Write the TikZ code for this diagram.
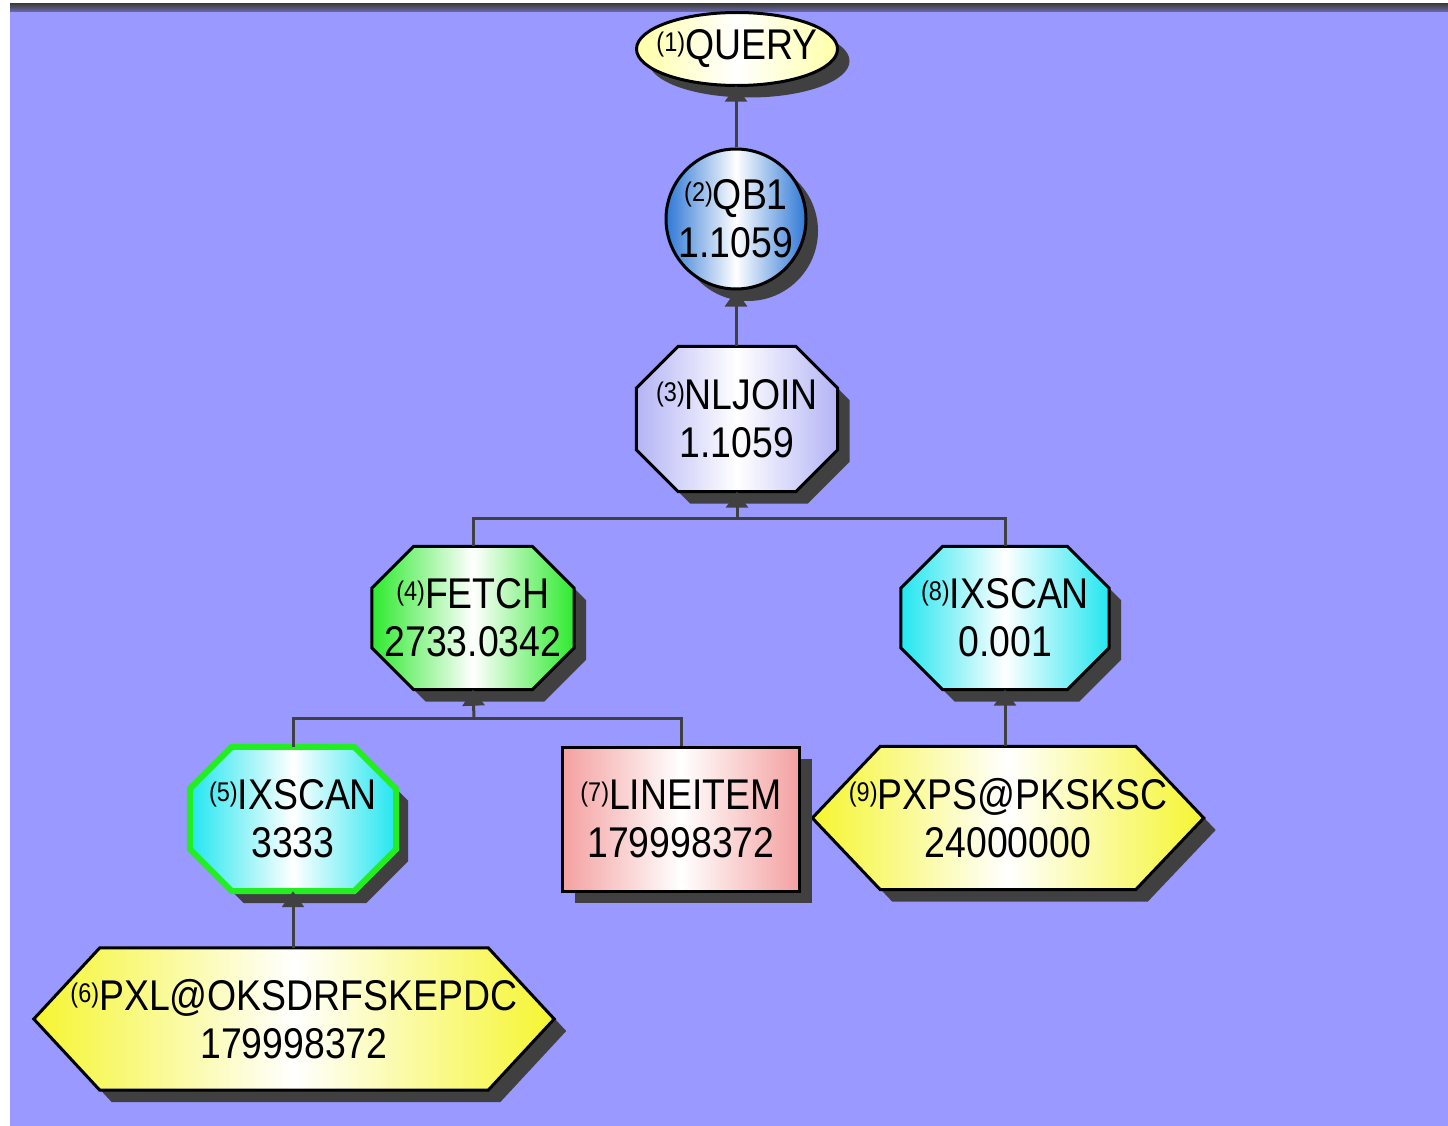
\documentclass[tikz,border=0pt]{standalone}
\usepackage{fontspec}
\setmainfont[FakeStretch=0.87]{Liberation Sans}
\usetikzlibrary{shapes.geometric,shadows,arrows.meta}
\definecolor{bg}{HTML}{9999FF}
\definecolor{linec}{HTML}{404040}
\definecolor{qyel}{HTML}{FFFFA8}
\definecolor{qblue}{HTML}{2F78D6}
\definecolor{lav}{HTML}{B4B4F6}
\definecolor{grn}{HTML}{2EEA2E}
\definecolor{cyn}{HTML}{22E6F0}
\definecolor{pnk}{HTML}{F4A0A0}
\definecolor{yel}{HTML}{F5F530}
\definecolor{gborder}{HTML}{22EE22}
\pgfdeclarelayer{shapes}
\pgfsetlayers{shapes,main}
\newcommand\opnum[1]{\raisebox{8pt}{\fontsize{27}{27}\selectfont(#1)}}
\tikzset{
  txt/.style={rectangle, inner sep=0pt, align=center, font=\fontsize{43}{48}\selectfont},
  shadowit/.style={drop shadow={opacity=1, fill=black!75, shadow xshift=12pt, shadow yshift=-12pt}},
  base/.style={txt, draw=black, line width=3pt, shadowit},
  poly/.style={draw=black, line width=3pt, line join=miter, shadowit},
  shadeit/.style={left color=#1, right color=#1, middle color=white},
  conn/.style={draw=linec, line width=3pt},
  arr/.style={conn, -{Triangle[width=22pt,length=16pt]}},
}
% octagon behind a named node: #1 name, #2 extra style, #3 chamfer
\newcommand\octo[3]{\begin{pgfonlayer}{shapes}
  \path[poly,#2] ([xshift=#3]#1.north west) -- ([xshift=-#3]#1.north east) -- ([yshift=-#3]#1.north east)
    -- ([yshift=#3]#1.south east) -- ([xshift=-#3]#1.south east) -- ([xshift=#3]#1.south west)
    -- ([yshift=#3]#1.south west) -- ([yshift=-#3]#1.north west) -- cycle;
  \end{pgfonlayer}}
% hexagon pointing left and right: #1 name, #2 extra style, #3 point depth
\newcommand\hexa[3]{\begin{pgfonlayer}{shapes}
  \path[poly,#2] ([xshift=#3]#1.north west) -- ([xshift=-#3]#1.north east) -- (#1.east)
    -- ([xshift=-#3]#1.south east) -- ([xshift=#3]#1.south west) -- (#1.west) -- cycle;
  \end{pgfonlayer}}
\begin{document}
\begin{tikzpicture}[x=1pt,y=-1pt]
\useasboundingbox (0,0) rectangle (1448,1126);
\begin{pgfonlayer}{shapes}
\fill[white] (0,0) rectangle (1448,1126);
\fill[bg] (10,4) rectangle (1448,1126);
\shade[top color=black!75, bottom color=bg!70!black] (10,4) rectangle (1448,12);
\end{pgfonlayer}

\node[txt, minimum width=201pt, minimum height=73pt] (query) at (737,49) {\opnum{1}QUERY};
\node[base, circle, shadeit=qblue, minimum size=140pt] (qb1) at (736,219) {\opnum{2}QB1\\1.1059};
\node[txt, minimum width=201pt, minimum height=145pt] (nljoin) at (737,419) {\opnum{3}NLJOIN\\1.1059};
\node[txt, minimum width=202pt, minimum height=143pt] (fetch) at (473,618) {\opnum{4}FETCH\\2733.0342};
\node[txt, minimum width=208pt, minimum height=143pt] (ix8) at (1005,618) {\opnum{8}IXSCAN\\0.001};
\node[txt, minimum width=206pt, minimum height=144pt] (ix5) at (293,819) {\opnum{5}IXSCAN\\3333};
\node[base, shadeit=pnk, minimum width=237pt, minimum height=144pt] (lineitem) at (681,819) {\opnum{7}LINEITEM\\179998372};
\node[txt, minimum width=391pt, minimum height=143pt] (pxps) at (1008,818) {\opnum{9}PXPS@PKSKSC\\24000000};
\node[txt, minimum width=520pt, minimum height=142pt] (pxl) at (294,1019) {\opnum{6}PXL@OKSDRFSKEPDC\\179998372};

\begin{pgfonlayer}{shapes}
\path[poly, shadeit=qyel] (query.center) ellipse [x radius=100.5pt, y radius=36.5pt];
\end{pgfonlayer}
\octo{nljoin}{shadeit=lav}{42pt}
\octo{fetch}{shadeit=grn}{42pt}
\octo{ix8}{shadeit=cyn}{42pt}
\octo{ix5}{shadeit=cyn, draw=gborder, line width=6pt}{42pt}
\hexa{pxps}{shadeit=yel}{68pt}
\hexa{pxl}{shadeit=yel}{66pt}

\coordinate (j3) at (737,518);
\coordinate (j4) at (474,718);

\draw[arr] (qb1.north) -- (qb1.north |- query.south);
\draw[arr] (nljoin.north -| qb1.south) -- (qb1.south);
\draw[conn] (fetch.north) |- (j3);
\draw[conn] (ix8.north) |- (j3);
\draw[arr] (j3) -- (nljoin.south);
\draw[conn] (ix5.north) |- (j4);
\draw[conn] (lineitem.north) |- (j4);
\draw[arr] (j4) -- (fetch.south);
\draw[arr] (pxl.north -| ix5.south) -- (ix5.south);
\draw[arr] (pxps.north -| ix8.south) -- (ix8.south);
\end{tikzpicture}
\end{document}
